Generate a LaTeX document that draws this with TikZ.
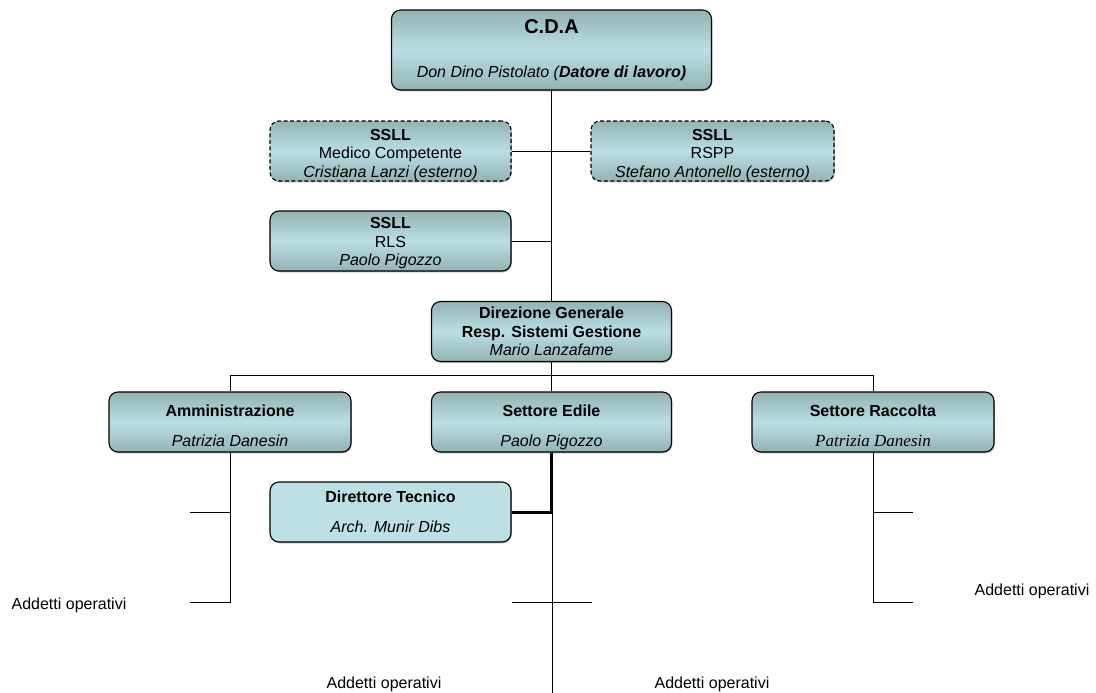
\documentclass[tikz,border=0pt]{standalone}
\usepackage{fontspec}
\setmainfont{Liberation Sans}
\newfontfamily\timesfont{Liberation Serif}
\usetikzlibrary{shadows}
\definecolor{boxdark}{RGB}{148,178,179}
\definecolor{boxlight}{RGB}{186,223,227}
\definecolor{flatfill}{RGB}{189,224,228}
\newcommand{\fsz}{\fontsize{16}{18.5}\selectfont}
\newcommand{\tstrutA}{\rule{0pt}{19pt}}
\newcommand{\tstrutB}{\rule{0pt}{15.5pt}}
\newcommand{\tstrutC}{\rule{0pt}{23.5pt}}
\newcommand{\bstrutC}{\rule[-4.5pt]{0pt}{4.5pt}}
\begin{document}
\begin{tikzpicture}[x=1pt,y=-1pt,
  base/.style={draw=black, line width=1.1pt, rounded corners=9pt, align=center, inner sep=0pt, font=\fsz,
    drop shadow={shadow xshift=0.8pt, shadow yshift=-1.3pt, fill=black!60, opacity=0.5}},
  box/.style={base, top color=boxdark, bottom color=boxdark, middle color=boxlight},
  dbox/.style={box, dash pattern=on 4pt off 2.5pt},
  fbox/.style={base, fill=flatfill},
  conn/.style={draw=black, line width=0.9pt},
  thickconn/.style={draw=black, line width=3pt},
  lbl/.style={font=\fsz, inner sep=0pt}]
\useasboundingbox (0,0) rectangle (1096,693);
\fill[white] (0,0) rectangle (1096,693);

% boxes
\node[box, minimum width=320pt, minimum height=80pt] (cda) at (551.5,50)
  {{\fontsize{20}{24}\selectfont\bfseries C.D.A}\\[25pt]\textit{Don Dino Pistolato (\textbf{Datore di lavoro)}}};
\node[dbox, minimum width=241pt, minimum height=60pt] (med) at (390.5,151)
  {\tstrutA\textbf{SSLL}\\Medico Competente\\\textit{Cristiana Lanzi (esterno)}};
\node[dbox, minimum width=243pt, minimum height=60pt] (rspp) at (712.5,151)
  {\tstrutA\textbf{SSLL}\\RSPP\\\textit{Stefano Antonello (esterno)}};
\node[box, minimum width=241pt, minimum height=60pt] (rls) at (390.5,241)
  {\tstrutB\textbf{SSLL}\\RLS\\\textit{Paolo Pigozzo}};
\node[box, minimum width=240pt, minimum height=60pt] (dir) at (551.5,331.5)
  {\textbf{Direzione Generale}\\\textbf{Resp. Sistemi Gestione}\\\textit{Mario Lanzafame}};
\node[box, minimum width=242pt, minimum height=60pt] (amm) at (230,422)
  {\tstrutC\textbf{Amministrazione}\\[11.5pt]\textit{Patrizia Danesin}\bstrutC};
\node[box, minimum width=240pt, minimum height=60pt] (edile) at (551.5,422)
  {\tstrutC\textbf{Settore Edile}\\[11.5pt]\textit{Paolo Pigozzo}\bstrutC};
\node[box, minimum width=242pt, minimum height=60pt] (rac) at (873,422)
  {\tstrutC\textbf{Settore Raccolta}\\[11.5pt]{\timesfont\itshape\fontsize{17}{18.5}\selectfont Patrizia Danesin}\bstrutC};
\node[fbox, minimum width=241pt, minimum height=60pt] (dt) at (390.5,512)
  {\textbf{Direttore Tecnico}\\[11.5pt]\textit{Arch. Munir Dibs}};

% labels
\node[lbl] (l1) at (69,605) {Addetti operativi};
\node[lbl] (l2) at (1032,591) {Addetti operativi};
\node[lbl] (l3) at (384,684) {Addetti operativi};
\node[lbl] (l4) at (712,684) {Addetti operativi};

% coordinates
\coordinate (amt1) at (190,512.5);
\coordinate (amt2) at (190,602);
\coordinate (rat1) at (913,512.5);
\coordinate (rat2) at (913,602);
\coordinate (ct1) at (512,602);
\coordinate (ct2) at (592,602);
\coordinate (cbot) at (552.5,693);
\coordinate (cjoin) at (552.5,512.5);

% connectors
\draw[conn] (cda.south) -- (dir.north);
\draw[conn] (med.east) -- (rspp.west);
\draw[conn] (rls.east) -- (rls.east -| cda.south);
\draw[conn] (amm.north) -- ++(0,-16) -| (rac.north);
\draw[conn] (dir.south) -- (edile.north);
\draw[conn] (amm.south) -- (amm.south |- amt2) -- (amt2);
\draw[conn] (amt1) -- (amt1 -| amm.south);
\draw[conn] (rac.south) -- (rac.south |- rat2) -- (rat2);
\draw[conn] (rat1) -- (rat1 -| rac.south);
\draw[thickconn] (edile.south) -- (edile.south |- dt.east) -- (dt.east);
\draw[conn] (cjoin) -- (cbot);
\draw[conn] (ct1) -- (ct2);
\end{tikzpicture}
\end{document}
